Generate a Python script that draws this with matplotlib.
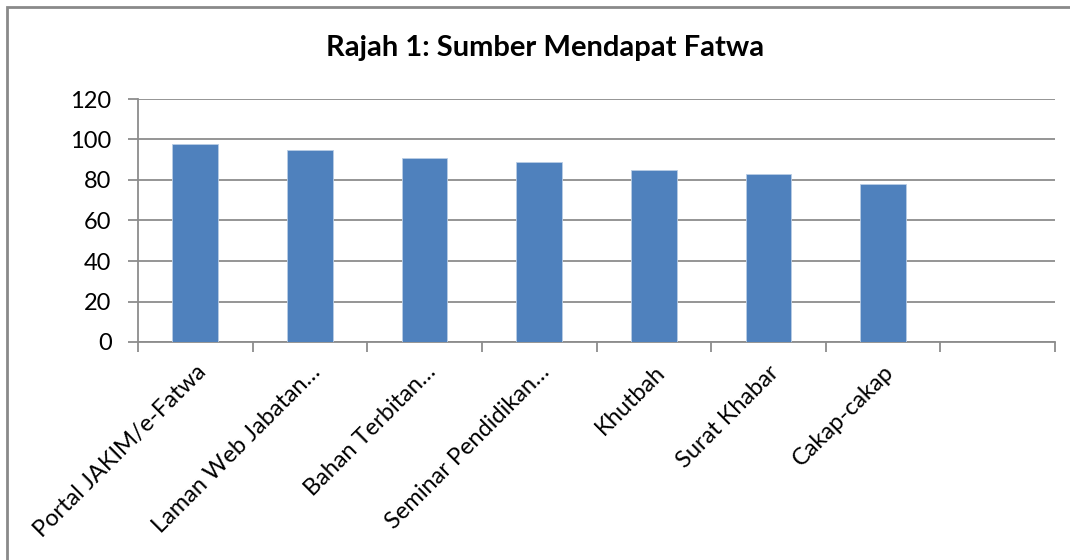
"""Rajah 1 : Sumber Mendapat Fatwa — carta bar gaya Excel."""

import matplotlib

matplotlib.use("Agg")
import matplotlib.pyplot as plt
from matplotlib.patches import Rectangle

# Data dibaca daripada rajah asal
kategori = [
    "Portal JAKIM/e-Fatwa",
    "Laman Web Jabatan…",
    "Bahan Terbitan…",
    "Seminar Pendidikan…",
    "Khutbah",
    "Surat Khabar",
    "Cakap-cakap",
    "",
]
nilai = [98, 95, 91, 89, 85, 83, 78, 0]
label_y = [0, 20, 40, 60, 80, 100, 120]

WARNA_BAR = "#4F81BD"
WARNA_GRID = "#8C8C8C"

plt.rcParams["font.family"] = ["Lato", "DejaVu Sans"]

fig = plt.figure(figsize=(10.7, 5.6), dpi=100)
ax = fig.add_axes([138 / 1070, 1 - 342 / 560, (1055 - 138) / 1070, (342 - 99) / 560])

x = list(range(len(kategori)))
ax.bar(x[:-1], nilai[:-1], width=0.4, color=WARNA_BAR,
       edgecolor="#B9CDE5", linewidth=0.6, zorder=3)

ax.set_xlim(-0.5, len(kategori) - 0.5)
ax.set_ylim(0, 120)
ax.set_yticks(label_y)
ax.set_yticklabels([str(v) for v in label_y], fontsize=17)
ax.grid(axis="y", color=WARNA_GRID, linewidth=1.3, zorder=0)

# graduasi x pada sempadan kategori, label di tengah
ax.set_xticks([i - 0.5 for i in range(len(kategori) + 1)])
ax.set_xticklabels([])
ax.set_xticks(x, minor=True)
ax.set_xticklabels(kategori, minor=True, rotation=45, ha="right",
                   rotation_mode="anchor", fontsize=17)
ax.tick_params(axis="x", which="minor", length=0, pad=14)
ax.tick_params(axis="x", which="major", length=7, color=WARNA_GRID, width=1.3)
ax.tick_params(axis="y", length=7, color=WARNA_GRID, width=1.3, pad=12)

for sisi in ("top", "right"):
    ax.spines[sisi].set_visible(False)
for sisi in ("left", "bottom"):
    ax.spines[sisi].set_color(WARNA_GRID)
    ax.spines[sisi].set_linewidth(1.3)

fig.text(545 / 1070, 1 - 48 / 560, "Rajah 1: Sumber Mendapat Fatwa",
         ha="center", va="center", fontsize=21, fontweight="bold")

# bingkai kawasan carta
fig.patches.append(Rectangle((7 / 1070, -0.1), 1.1, 1.1 - 7 / 560,
                             transform=fig.transFigure, fill=False,
                             edgecolor="#8A8A8A", linewidth=2))

fig.savefig("out.png", dpi=100)
